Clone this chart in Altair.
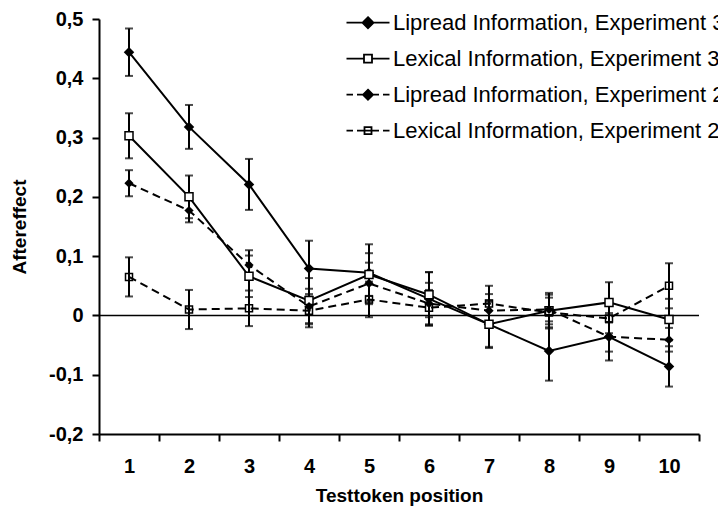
import altair as alt
import pandas as pd

positions = [1, 2, 3, 4, 5, 6, 7, 8, 9, 10]
series_names = [
    "Lipread Information, Experiment 3",
    "Lexical Information, Experiment 3",
    "Lipread Information, Experiment 2",
    "Lexical Information, Experiment 2",
]
lip3 = [0.444, 0.318, 0.221, 0.079, 0.072, 0.028, -0.015, -0.060, -0.036, -0.086]
lex3 = [0.303, 0.200, 0.066, 0.025, 0.069, 0.035, -0.015, 0.008, 0.022, -0.007]
lip2 = [0.223, 0.177, 0.085, 0.015, 0.054, 0.020, 0.008, 0.010, -0.036, -0.041]
lex2 = [0.065, 0.010, 0.012, 0.008, 0.027, 0.013, 0.020, 0.005, -0.005, 0.050]
lip3_err = [0.040, 0.037, 0.043, 0.047, 0.048, 0.045, 0.040, 0.050, 0.040, 0.034]
lex3_err = [0.038, 0.036, 0.035, 0.038, 0.036, 0.038, 0.038, 0.030, 0.034, 0.035]
lip2_err = [0.022, 0.020, 0.025, 0.030, 0.035, 0.035, 0.028, 0.025, 0.025, 0.020]
lex2_err = [0.033, 0.033, 0.030, 0.028, 0.030, 0.030, 0.030, 0.025, 0.025, 0.038]
y_ticks = [-0.2, -0.1, 0, 0.1, 0.2, 0.3, 0.4, 0.5]

rows = []
for name, vals, errs in zip(series_names, [lip3, lex3, lip2, lex2],
                            [lip3_err, lex3_err, lip2_err, lex2_err]):
    for p, v, e in zip(positions, vals, errs):
        rows.append({"pos": p, "series": name, "value": v, "lo": v - e, "hi": v + e,
                     "exp": name[-1]})
df = pd.DataFrame(rows)

FONT = "Liberation Sans"

x_enc = alt.X(
    "pos:O",
    sort=positions,
    scale=alt.Scale(type="band", paddingInner=0, paddingOuter=0),
    axis=alt.Axis(
        title="Testtoken position", labelAngle=0, tickBand="extent",
        tickSize=7, tickWidth=2, tickColor="black",
        domainColor="black", domainWidth=2,
        labelFont=FONT, labelFontSize=20, labelFontWeight="bold", labelColor="black",
        labelPadding=15,
        titleFont=FONT, titleFontSize=19, titleFontWeight="bold", titleColor="black",
        titlePadding=10, grid=False,
    ),
)

y_axis = alt.Axis(
    values=y_ticks,
    labelExpr="datum.value == 0 ? '0' : replace(replace(format(datum.value, '.1f'), '.', ','), '\u2212', '-')",
    title="Aftereffect",
    tickSize=7, tickWidth=2, tickColor="black",
    domainColor="black", domainWidth=2,
    labelFont=FONT, labelFontSize=20, labelFontWeight="bold", labelColor="black",
    labelPadding=9,
    titleFont=FONT, titleFontSize=19, titleFontWeight="bold", titleColor="black",
    titlePadding=19, grid=False,
)
y_scale = alt.Scale(domain=[-0.2, 0.5], nice=False, zero=False)


def y_of(field):
    return alt.Y(field, scale=y_scale, axis=y_axis)


base = alt.Chart(df)

zero_line = alt.Chart(pd.DataFrame({"zero": [0]})).mark_rule(
    color="black", strokeWidth=1.5
).encode(y=y_of("zero:Q"))

err_rules = base.mark_rule(color="black", strokeWidth=2).encode(
    x=x_enc, y=y_of("lo:Q"), y2="hi:Q"
)
cap_lo = base.mark_tick(color="black", size=8, thickness=2).encode(x=x_enc, y=y_of("lo:Q"))
cap_hi = base.mark_tick(color="black", size=8, thickness=2).encode(x=x_enc, y=y_of("hi:Q"))

lines_solid = base.transform_filter(alt.datum.exp == "3").mark_line(
    color="black", strokeWidth=2
).encode(x=x_enc, y=y_of("value:Q"), detail="series:N")
lines_dashed = base.transform_filter(alt.datum.exp == "2").mark_line(
    color="black", strokeWidth=2, strokeDash=[8, 5]
).encode(x=x_enc, y=y_of("value:Q"), detail="series:N")

pt_lip3 = base.transform_filter(alt.datum.series == series_names[0]).mark_point(
    shape="diamond", filled=True, color="black", size=110, opacity=1
).encode(x=x_enc, y=y_of("value:Q"))
pt_lex3 = base.transform_filter(alt.datum.series == series_names[1]).mark_point(
    shape="square", fill="white", stroke="black", strokeWidth=1.5, size=64, opacity=1
).encode(x=x_enc, y=y_of("value:Q"))
pt_lip2 = base.transform_filter(alt.datum.series == series_names[2]).mark_point(
    shape="diamond", filled=True, color="black", size=85, opacity=1
).encode(x=x_enc, y=y_of("value:Q"))
pt_lex2 = base.transform_filter(alt.datum.series == series_names[3]).mark_point(
    shape="square", filled=False, color="black", strokeWidth=1.5, size=49, opacity=1
).encode(x=x_enc, y=y_of("value:Q"))

legend_paths = [
    "M-4.3,0H4.3M0,-1.1L1.1,0L0,1.1L-1.1,0Z",
    "M-4.3,0H-0.8M0.8,0H4.3M-0.8,-0.8H0.8V0.8H-0.8Z",
    "M-4.3,0H-3.0M-2.2,0H-1.0M1.0,0H2.2M3.0,0H4.3M0,-1.0L1.0,0L0,1.0L-1.0,0Z",
    "M-4.3,0H-3.0M-2.2,0H2.2M3.0,0H4.3M-0.7,-0.7H0.7V0.7H-0.7Z",
]
legend_fills = ["black", "white", "black", "transparent"]
legend_strokes = ["black", "black", "black", "black"]

leg = alt.Legend(
    title=None, orient="none", legendX=258, legendY=-7.3,
    symbolSize=100, symbolOpacity=1, symbolStrokeColor="black", symbolStrokeWidth=1.8,
    labelFont=FONT, labelFontSize=22, labelColor="black", labelOffset=14,
    labelLimit=1000, rowPadding=14, padding=0,
)

legend_layer = base.mark_point(filled=False, size=0, strokeWidth=1.8).encode(
    x=x_enc,
    y=y_of("value:Q"),
    shape=alt.Shape("series:N", scale=alt.Scale(domain=series_names, range=legend_paths), legend=leg),
    fill=alt.Fill("series:N", scale=alt.Scale(domain=series_names, range=legend_fills), legend=leg),
    stroke=alt.Stroke("series:N", scale=alt.Scale(domain=series_names, range=legend_strokes), legend=leg),
)

chart = alt.layer(
    zero_line, err_rules, cap_lo, cap_hi, lines_solid, lines_dashed,
    pt_lip3, pt_lex3, pt_lip2, pt_lex2, legend_layer
).properties(
    width=600, height=415,
    autosize=alt.AutoSizeParams(type="none"),
    padding={"left": 99, "top": 19, "right": 19, "bottom": 75},
    background="white",
).configure_view(stroke=None)

chart.save("out.html", embed_options={"renderer": "svg", "actions": False})
